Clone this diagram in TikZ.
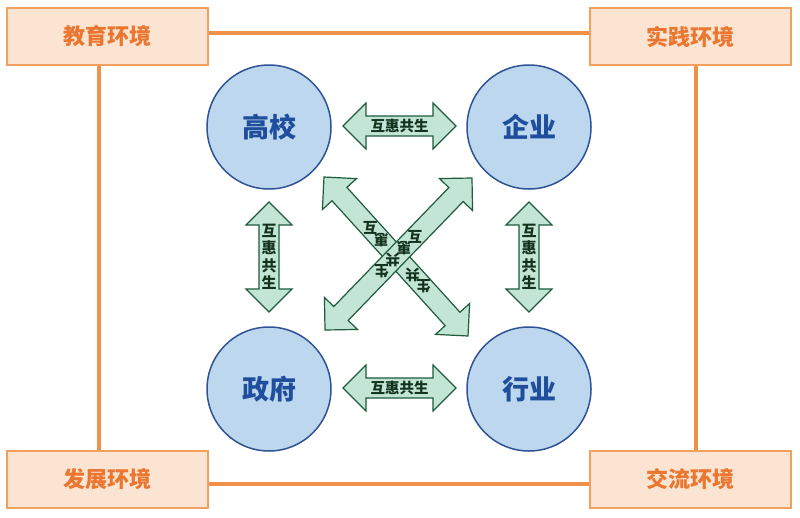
\documentclass[tikz,border=0pt]{standalone}
\usepackage{fontspec}
\setmainfont{Noto Sans CJK SC}
\usetikzlibrary{calc}
\definecolor{boxfill}{HTML}{FCE4D2}
\definecolor{boxline}{HTML}{F2A05E}
\definecolor{boxtext}{HTML}{EA7630}
\definecolor{envline}{HTML}{F0914A}
\definecolor{cfill}{HTML}{BDD7EE}
\definecolor{cline}{HTML}{2F5496}
\definecolor{ctext}{HTML}{1F4E9C}
\definecolor{afill}{HTML}{C3E5D5}
\definecolor{aline}{HTML}{1E5C3C}
\definecolor{atext}{HTML}{14331F}
\newcommand\dblarrow[2]{%
\draw[blockarrow] (#1) -- ($(#1)!32.53pt!45:(#2)$) -- ($(#1)!25.08pt!23.5:(#2)$)
 -- ($(#2)!25.08pt!-23.5:(#1)$) -- ($(#2)!32.53pt!-45:(#1)$) -- (#2)
 -- ($(#2)!32.53pt!45:(#1)$) -- ($(#2)!25.08pt!23.5:(#1)$)
 -- ($(#1)!25.08pt!-23.5:(#2)$) -- ($(#1)!32.53pt!-45:(#2)$) -- cycle;}
\begin{document}
\begin{tikzpicture}[x=1pt,y=1pt,
 envbox/.style={draw=boxline, line width=2pt, fill=boxfill, minimum width=201pt, minimum height=57pt, inner sep=0pt, font=\fontsize{22}{24}\selectfont\bfseries, text=boxtext},
 envlink/.style={draw=envline, line width=4pt},
 party/.style={circle, draw=cline, line width=1.5pt, fill=cfill, minimum size=124pt, inner sep=0pt, font=\fontsize{27}{30}\selectfont\bfseries, text=ctext},
 blockarrow/.style={draw=aline, line width=1.2pt, fill=afill, line join=miter},
 atxt/.style={font=\fontsize{14.5}{16}\selectfont\bfseries, text=atext, inner sep=0pt},
 vtxt/.style={font=\fontsize{15}{17.5}\selectfont\bfseries, text=atext, align=center, inner sep=0pt},
 dtxt/.style={font=\fontsize{14.5}{15}\selectfont\bfseries, text=atext, inner sep=0pt, rotate=180}]
\useasboundingbox (0,0) rectangle (800,-517);
\fill[white] (0,0) rectangle (800,-517);
% environment boxes
\node[envbox] (tl) at (107.5,-36.5) {教育环境};
\node[envbox] (tr) at (690,-36.5) {实践环境};
\node[envbox] (bl) at (107.5,-479) {发展环境};
\node[envbox] (br) at (690,-479) {交流环境};
\draw[envlink] ([yshift=3.5pt]tl.east) -- ([yshift=3.5pt]tr.west);
\draw[envlink] ([yshift=-5pt]bl.east) -- ([yshift=-5pt]br.west);
\draw[envlink] ([xshift=-8.5pt]tl.south) -- ([xshift=-8.5pt]bl.north);
\draw[envlink] ([xshift=5.5pt]tr.south) -- ([xshift=5.5pt]br.north);
% parties
\node[party] (gx) at (269,-127) {高校};
\node[party] (qy) at (529,-127) {企业};
\node[party] (zf) at (269,-389) {政府};
\node[party] (hy) at (529,-389) {行业};
% arrow end points
\coordinate (h1a) at (343,-126); \coordinate (h1b) at (456,-126);
\coordinate (h2a) at (343,-388); \coordinate (h2b) at (456,-388);
\coordinate (v1a) at (269,-202); \coordinate (v1b) at (269,-312);
\coordinate (v2a) at (529,-202); \coordinate (v2b) at (529,-312);
\coordinate (d1a) at (324,-177); \coordinate (d1b) at (468,-336);
\coordinate (d2a) at (325,-330); \coordinate (d2b) at (472,-178);
% diagonal arrows
\dblarrow{d1a}{d1b}
\node[dtxt] (d1t1) at ($(d1a)!69pt!(d1b)$) {互};
\node[dtxt] (d1t2) at ($(d1a)!85pt!(d1b)$) {惠};
\node[dtxt] (d1t3) at ($(d1a)!132pt!(d1b)$) {共};
\node[dtxt] (d1t4) at ($(d1a)!148pt!(d1b)$) {生};
\dblarrow{d2a}{d2b}
\node[dtxt] (d2t1) at ($(d2b)!82pt!(d2a)$) {互};
\node[dtxt] (d2t2) at ($(d2b)!98pt!(d2a)$) {惠};
\node[dtxt] (d2t3) at ($(d2b)!114pt!(d2a)$) {共};
\node[dtxt] (d2t4) at ($(d2b)!130pt!(d2a)$) {生};
% straight arrows
\dblarrow{h1a}{h1b}
\node[atxt] (ht1) at ($(h1a)!0.5!(h1b)$) {互惠共生};
\dblarrow{h2a}{h2b}
\node[atxt] (ht2) at ($(h2a)!0.5!(h2b)$) {互惠共生};
\dblarrow{v1a}{v1b}
\node[vtxt] (vt1) at ($(v1a)!0.5!(v1b)$) {互\\惠\\共\\生};
\dblarrow{v2a}{v2b}
\node[vtxt] (vt2) at ($(v2a)!0.5!(v2b)$) {互\\惠\\共\\生};
\end{tikzpicture}
\end{document}
